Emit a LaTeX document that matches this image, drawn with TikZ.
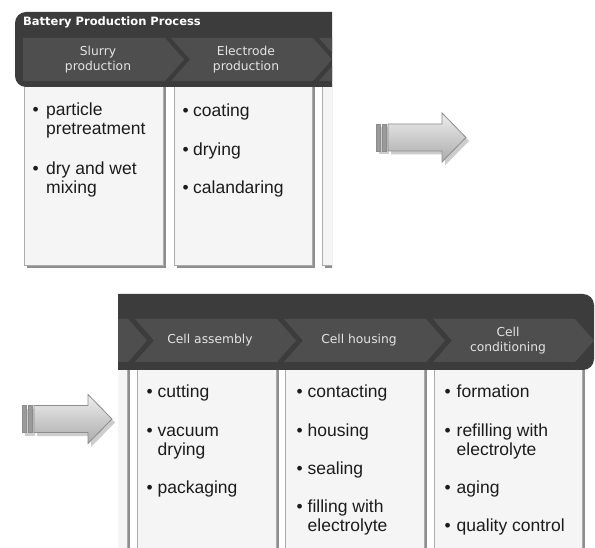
\documentclass[tikz,border=0pt]{standalone}
\usepackage{fontspec}
\setmainfont{Liberation Sans}
\newfontfamily\labelfont{DejaVu Sans}

\definecolor{hdr}{HTML}{3B3C3B}
\definecolor{chev}{HTML}{4D4E4D}
\definecolor{chevtxt}{HTML}{E4E4E4}
\definecolor{colfill}{HTML}{F5F5F5}
\definecolor{colline}{HTML}{ABABAB}
\definecolor{colshadow}{HTML}{8E8E8E}
\definecolor{bodytxt}{HTML}{1C1C1C}
\definecolor{arrline}{HTML}{8C8C8C}
\definecolor{arrshadow}{HTML}{CDCDCD}
\definecolor{arrtop}{HTML}{EEEEEE}
\definecolor{arrbottom}{HTML}{ABABAB}
\definecolor{stripe}{HTML}{9A9A9A}

% bullet list helpers
\newlength\bulw
\newcommand\bp{\makebox[\bulw][l]{\textbullet}}
\newcommand\bi{\hspace*{\bulw}}
\newcommand\items[1]{\begin{tabular}[t]{@{}l@{}}#1\end{tabular}}

% one process column with its drop shadow
\newcommand\colbox[4]{%
  \fill[colshadow] (#1+3,#2+3) rectangle (#3+3,#4+3);
  \filldraw[fill=colfill,draw=colline,line width=0.6pt] (#1,#2) rectangle (#3,#4);}

% chevron step; #3 adds the notch on the left side
\newcommand\chevron[3]{%
  \fill[chev] (#1,#2) -- ++(142,0) -- ++(19,21.5) -- ++(-19,21.5) -- ++(-142,0) #3 -- cycle;}

% striped block arrow, tail at the origin of the current scope
\newcommand\blockarrow{%
  \begin{scope}[shift={(3,3.5)}]
    \fill[arrshadow] (0,-13.5) rectangle (10,13.5);
    \fill[arrshadow] (12,-13.5) -- (66,-13.5) -- (66,-24.5) -- (90,0) -- (66,24.5) -- (66,13.5) -- (12,13.5) -- cycle;
  \end{scope}
  \filldraw[fill=stripe,draw=arrline,line width=0.5pt] (0,-13.5) rectangle (4,13.5);
  \filldraw[fill=stripe,draw=arrline,line width=0.5pt] (6,-13.5) rectangle (10,13.5);
  \shade[top color=arrtop,bottom color=arrbottom,draw=arrline,line width=0.8pt]
    (12,-13.5) -- (66,-13.5) -- (66,-24.5) -- (90,0) -- (66,24.5) -- (66,13.5) -- (12,13.5) -- cycle;}

\tikzset{
  chevlabel/.style={text=chevtxt, align=center, inner sep=0pt,
    font=\labelfont\fontsize{12.3}{15.5}\selectfont},
  paneltitle/.style={text=white, anchor=base west, inner sep=0pt,
    font=\labelfont\bfseries\fontsize{11.5}{13}\selectfont},
  item/.style={anchor=base west, inner sep=0pt, text=bodytxt,
    font=\fontsize{17.5}{19}\selectfont},
}

\begin{document}
\begin{tikzpicture}[x=1pt,y=-1pt]
\useasboundingbox (0,0) rectangle (595,548);

% ---------- first half of the process ----------
\begin{scope}
  \clip (0,0) rectangle (332,300);
  \colbox{24}{80}{163}{265}
  \colbox{174}{80}{312}{265}
  \colbox{322}{80}{460}{265}
  \fill[hdr, rounded corners=11pt] (15,12) rectangle (380,87);
  \chevron{23}{38}{}
  \chevron{171}{38}{-- ++(19,-21.5)}
  \chevron{319}{38}{-- ++(19,-21.5)}
\end{scope}

\node[paneltitle] (title) at (23,26) {Battery Production Process};
\node[chevlabel] (slurry) at (98,59.5) {Slurry\\production};
\node[chevlabel] (electrode) at (246,59.5) {Electrode\\production};

\setlength\bulw{13.5pt}
\node[item] (pretreat) at (32.5,116) {\items{\bp particle\\\bi pretreatment}};
\node[item] (mixing) at (32.5,175) {\items{\bp dry and wet\\\bi mixing}};
\setlength\bulw{10.5pt}
\node[item] (coating) at (182.5,117) {\items{\bp coating}};
\node[item] (drying) at (182.5,156) {\items{\bp drying}};
\node[item] (calandaring) at (182.5,194) {\items{\bp calandaring}};

% ---------- continuation arrows ----------
\begin{scope}[shift={(376,137.5)}]
  \blockarrow
\end{scope}
\begin{scope}[shift={(22,419)}]
  \blockarrow
\end{scope}

% ---------- second half of the process ----------
\begin{scope}
  \clip (118,280) rectangle (595,548);
  \colbox{-20}{360}{127}{560}
  \colbox{137}{360}{276}{560}
  \colbox{285}{360}{424}{560}
  \colbox{434}{360}{582}{560}
  \fill[hdr, rounded corners=11pt] (60,294) rectangle (594,370);
  \chevron{-14}{319}{-- ++(19,-21.5)}
  \chevron{135}{319}{-- ++(19,-21.5)}
  \chevron{284}{319}{-- ++(19,-21.5)}
  \chevron{433}{319}{-- ++(19,-21.5)}
\end{scope}

\node[chevlabel] (assembly) at (210,340.5) {Cell assembly};
\node[chevlabel] (housinghead) at (359,340.5) {Cell housing};
\node[chevlabel] (conditioning) at (508,340.5) {Cell\\conditioning};

\setlength\bulw{11pt}
\node[item] (cutting) at (146.5,398) {\items{\bp cutting}};
\node[item] (vacuum) at (146.5,436.5) {\items{\bp vacuum\\\bi drying}};
\node[item] (packaging) at (146.5,493) {\items{\bp packaging}};

\node[item] (contacting) at (296.5,398) {\items{\bp contacting}};
\node[item] (housing) at (296.5,436) {\items{\bp housing}};
\node[item] (sealing) at (296.5,474) {\items{\bp sealing}};
\node[item] (filling) at (296.5,512) {\items{\bp filling with\\\bi electrolyte}};

\setlength\bulw{12pt}
\node[item] (formation) at (444.5,398) {\items{\bp formation}};
\node[item] (refilling) at (444.5,436.5) {\items{\bp refilling with\\\bi electrolyte}};
\node[item] (aging) at (444.5,493) {\items{\bp aging}};
\node[item] (quality) at (444.5,531) {\items{\bp quality control}};
\end{tikzpicture}
\end{document}
